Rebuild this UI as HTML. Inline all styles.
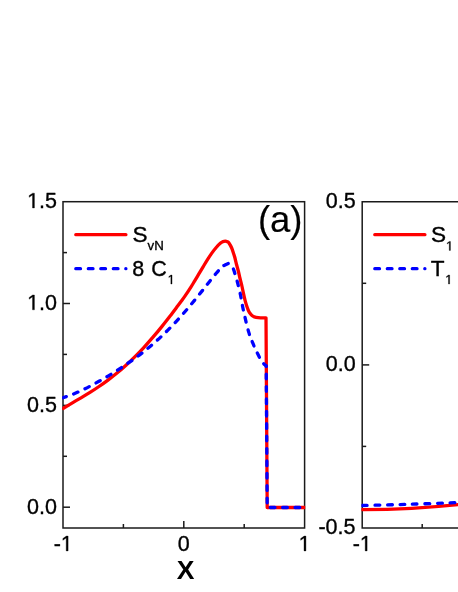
<!DOCTYPE html>
<html><head><meta charset="utf-8"><title>chart</title>
<style>html,body{margin:0;padding:0;background:#fff;width:458px;height:592px;overflow:hidden;font-family:"Liberation Sans",sans-serif}svg text,.t{font-family:"Liberation Sans",sans-serif}</style></head>
<body>
<svg width="458" height="592" viewBox="0 0 458 592" style="position:absolute;left:0;top:0;will-change:transform">
<defs><clipPath id="ca"><rect x="62.2" y="200.9" width="243.0" height="327.9"/></clipPath><clipPath id="cb"><rect x="361.4" y="200.9" width="200" height="327.9"/></clipPath></defs>
<g fill="none" stroke="#1a1a1a" stroke-width="1.5">
<rect x="63.0" y="201.7" width="241.6" height="326.3"/>
<path d="M470,201.7 H362.2 V528.0 H470"/>
</g>
<g fill="none" stroke="#1a1a1a" stroke-width="1.5">
<path d="M63.0,507.2 h7"/>
<path d="M63.0,405.4 h7"/>
<path d="M63.0,303.5 h7"/>
<path d="M63.0,456.3 h4"/>
<path d="M63.0,354.4 h4"/>
<path d="M63.0,252.6 h4"/>
<path d="M183.8,528.0 v-7"/>
<path d="M123.4,528.0 v-4"/>
<path d="M244.2,528.0 v-4"/>
<path d="M362.2,364.9 h7"/>
<path d="M362.2,283.3 h4"/>
<path d="M362.2,446.4 h4"/>
<path d="M422.2,528.0 v-4"/>
</g>
<g clip-path="url(#ca)" fill="none" stroke-width="3.3" stroke-linejoin="round" stroke-linecap="round">
<path d="M63.00,408.50 C64.50,407.60 69.00,404.88 72.00,403.10 C75.00,401.32 78.00,399.58 81.00,397.80 C84.00,396.02 87.00,394.28 90.00,392.40 C93.00,390.52 96.00,388.55 99.00,386.50 C102.00,384.45 105.00,382.33 108.00,380.10 C111.00,377.87 114.00,375.57 117.00,373.10 C120.00,370.63 123.00,368.03 126.00,365.30 C129.00,362.57 132.00,359.70 135.00,356.70 C138.00,353.70 141.00,350.55 144.00,347.30 C147.00,344.05 150.00,340.68 153.00,337.20 C156.00,333.72 159.00,330.12 162.00,326.40 C165.00,322.68 168.63,317.97 171.00,314.90 C173.37,311.82 174.43,310.31 176.20,307.95 C177.97,305.59 180.12,302.77 181.60,300.76 C183.08,298.75 183.55,298.18 185.10,295.90 C186.65,293.62 189.35,289.52 190.90,287.10 C192.45,284.68 193.10,283.55 194.40,281.40 C195.70,279.25 197.25,276.63 198.70,274.20 C200.15,271.77 201.63,269.23 203.10,266.80 C204.57,264.37 206.05,261.88 207.50,259.60 C208.95,257.32 210.35,255.12 211.80,253.10 C213.25,251.08 214.73,249.16 216.20,247.48 C217.67,245.80 219.47,243.97 220.60,243.00 C221.73,242.03 222.23,241.96 223.00,241.65 C223.77,241.34 224.48,241.11 225.20,241.12 C225.92,241.13 226.65,241.35 227.30,241.70 C227.95,242.05 228.37,242.15 229.10,243.20 C229.83,244.25 230.97,246.33 231.70,248.00 C232.43,249.67 233.00,251.70 233.50,253.20 C234.00,254.70 234.22,255.20 234.70,257.00 C235.18,258.80 235.80,261.67 236.40,264.00 C237.00,266.33 237.72,268.67 238.30,271.00 C238.88,273.33 239.30,275.50 239.90,278.00 C240.50,280.50 241.35,283.63 241.90,286.00 C242.45,288.37 242.65,289.72 243.20,292.20 C243.75,294.68 244.58,298.52 245.20,300.90 C245.82,303.28 246.35,304.87 246.90,306.50 C247.45,308.13 247.92,309.48 248.50,310.70 C249.08,311.92 249.77,312.95 250.40,313.80 C251.03,314.65 251.65,315.28 252.30,315.80 C252.95,316.32 253.32,316.58 254.30,316.90 C255.28,317.22 256.92,317.55 258.20,317.70 C259.48,317.85 260.70,317.78 262.00,317.80 C263.30,317.82 265.33,317.80 266.00,317.80 L267.20,507.50 L305.00,507.50" stroke="#ff0000"/>
<path d="M63.00,397.70 C64.50,397.18 69.00,395.77 72.00,394.60 C75.00,393.43 78.00,392.09 81.00,390.69 C84.00,389.29 87.00,387.76 90.00,386.19 C93.00,384.62 96.00,382.97 99.00,381.29 C102.00,379.61 105.00,377.94 108.00,376.13 C111.00,374.32 114.00,372.40 117.00,370.46 C120.00,368.52 123.00,366.54 126.00,364.51 C129.00,362.48 132.00,360.46 135.00,358.28 C138.00,356.10 141.00,353.83 144.00,351.45 C147.00,349.07 150.00,346.61 153.00,344.00 C156.00,341.39 159.00,338.65 162.00,335.81 C165.00,332.97 168.00,330.01 171.00,326.93 C174.00,323.85 177.00,320.67 180.00,317.34 C183.00,314.01 186.00,310.49 189.00,306.95 C192.00,303.41 195.00,299.78 198.00,296.08 C201.00,292.38 204.00,288.48 207.00,284.72 C210.00,280.97 213.48,276.53 216.00,273.55 C218.52,270.57 220.53,268.28 222.10,266.83 C223.67,265.38 224.45,265.34 225.40,264.82 C226.35,264.30 227.10,264.02 227.80,263.70 C228.50,263.38 229.30,263.03 229.60,262.90" stroke="#0000ff" stroke-dasharray="4.7 7.8" stroke-dashoffset="1.2"/>
<path d="M229.60,262.90 C229.82,263.05 230.50,263.30 230.90,263.80 C231.30,264.30 231.65,265.15 232.00,265.90 C232.35,266.65 232.63,267.40 233.00,268.30 C233.37,269.20 233.42,268.85 234.20,271.30 C234.97,273.75 236.60,279.05 237.65,283.00 C238.70,286.95 239.74,291.43 240.50,295.00 C241.26,298.57 241.52,300.95 242.20,304.40 C242.88,307.85 243.55,311.20 244.60,315.70 C245.65,320.20 247.20,326.98 248.50,331.40 C249.80,335.82 250.93,338.58 252.40,342.20 C253.87,345.82 255.67,349.82 257.30,353.10 C258.93,356.38 260.72,359.75 262.20,361.90 C263.68,364.05 265.53,365.32 266.20,366.00" stroke="#0000ff" stroke-dasharray="4.7 7.8" stroke-dashoffset="5.08"/>
<path d="M266.2,366 L267.2,507.5 L305,507.5" stroke="#0000ff" stroke-dasharray="4.7 7.7" stroke-dashoffset="-8.15"/>
</g>
<g clip-path="url(#cb)" fill="none" stroke-width="3.3" stroke-linecap="round">
<path d="M362.2,509.7 Q420,509.2 470,503.2" stroke="#ff0000"/>
<path d="M362.2,505.5 Q420,504.2 470,502" stroke="#0000ff" stroke-dasharray="4.7 7.8"/>
</g>
<g fill="none" stroke-width="3.3" stroke-linecap="round">
<path d="M75.8,234.7 H125.9" stroke="#ff0000"/>
<path d="M75.8,268.7 H125.9" stroke="#0000ff" stroke-dasharray="4.7 7.8"/>
<path d="M374.8,234.7 H424.9" stroke="#ff0000"/>
<path d="M374.8,268.7 H424.9" stroke="#0000ff" stroke-dasharray="4.7 7.8"/>
</g>
<g class="t" fill="#000" stroke="#000" stroke-width="0.35" stroke-linejoin="round" font-size="21.5">
<path vector-effect="non-scaling-stroke" transform="translate(27.11,207.95) scale(0.010498,-0.010498)" d="M515 0V1237L197 1010V1180L530 1409H696V0Z"/>
<text x="39.07" y="208.0" font-size="21.5">.5</text>
<path vector-effect="non-scaling-stroke" transform="translate(27.11,309.80) scale(0.010498,-0.010498)" d="M515 0V1237L197 1010V1180L530 1409H696V0Z"/>
<text x="39.07" y="309.8" font-size="21.5">.0</text>
<text x="27.11" y="411.9" font-size="21.5">0.5</text>
<text x="27.11" y="514.4" font-size="21.5">0.0</text>
<text x="325.81" y="208.0" font-size="21.5">0.5</text>
<text x="325.81" y="371.2" font-size="21.5">0.0</text>
<text x="318.45" y="533.6" font-size="21.5">-0.5</text>
<text x="53.64" y="550.9" font-size="21.5">-</text>
<path vector-effect="non-scaling-stroke" transform="translate(60.80,550.90) scale(0.010498,-0.010498)" d="M515 0V1237L197 1010V1180L530 1409H696V0Z"/>
<text x="177.82" y="550.9" font-size="21.5">0</text>
<path vector-effect="non-scaling-stroke" transform="translate(298.62,550.90) scale(0.010498,-0.010498)" d="M515 0V1237L197 1010V1180L530 1409H696V0Z"/>
<text x="352.64" y="550.9" font-size="21.5">-</text>
<path vector-effect="non-scaling-stroke" transform="translate(359.80,550.90) scale(0.010498,-0.010498)" d="M515 0V1237L197 1010V1180L530 1409H696V0Z"/>
<text x="185.7" y="579.0" text-anchor="middle" font-size="26.5" font-weight="bold" stroke="none">X</text>
<text x="280.2" y="231.5" text-anchor="middle" font-size="36.5" stroke-width="0.15">(a)</text>
<text transform="translate(132.4,241.8) scale(1.05,1)" font-size="21.5">S</text>
<text transform="translate(147.5,250.4) scale(1.02,1)" font-size="13">vN</text>
<text transform="translate(132.2,275.9) scale(1.0,1)" font-size="21.5">8</text>
<text transform="translate(151.2,275.9) scale(1.0,1)" font-size="21.5">C</text>
<path vector-effect="non-scaling-stroke" transform="translate(167.60,284.00) scale(0.006348,-0.006348)" d="M515 0V1237L197 1010V1180L530 1409H696V0Z"/>
<text transform="translate(430.9,241.8) scale(1.05,1)" font-size="21.5">S</text>
<path vector-effect="non-scaling-stroke" transform="translate(446.00,250.40) scale(0.006348,-0.006348)" d="M515 0V1237L197 1010V1180L530 1409H696V0Z"/>
<text transform="translate(430.8,275.9) scale(1.05,1)" font-size="21.5">T</text>
<path vector-effect="non-scaling-stroke" transform="translate(445.20,284.00) scale(0.006348,-0.006348)" d="M515 0V1237L197 1010V1180L530 1409H696V0Z"/>
</g>
</svg>
</body></html>
